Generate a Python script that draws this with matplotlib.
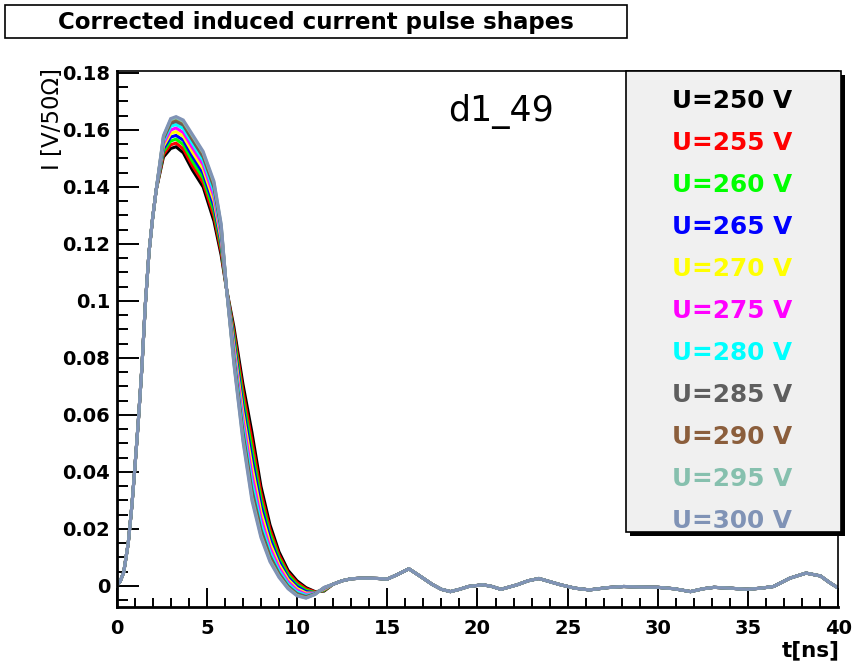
import matplotlib
matplotlib.use('Agg')
import matplotlib.pyplot as plt
from matplotlib.patches import Rectangle
from matplotlib.ticker import MultipleLocator, FuncFormatter

# common rising edge (all voltages overlap here)
t_rise = [0.0, 0.2, 0.4, 0.65, 0.85, 1.0, 1.2, 1.4, 1.6, 1.8, 2.0, 2.2]
i_rise = [0.0, 0.0015, 0.0048, 0.0150, 0.0280, 0.0400, 0.0570, 0.0760, 0.0990, 0.1170, 0.1290, 0.1390]

# peak and falling edge, one list per bias voltage
t_pulse = [2.6, 3.0, 3.3, 3.7, 4.2, 4.8, 5.4, 5.8, 6.1, 6.5, 7.0, 7.5, 8.0, 8.5, 9.0, 9.5, 10.0, 10.5, 11.0, 11.5]
i_250 = [0.1505, 0.1535, 0.1541, 0.1520, 0.1460, 0.1400, 0.1280, 0.1160, 0.1040, 0.0910, 0.0710, 0.0540, 0.0350, 0.0215, 0.0120, 0.0055, 0.0018, -0.0006, -0.0020, -0.0018]
i_255 = [0.1514, 0.1548, 0.1554, 0.1534, 0.1475, 0.1415, 0.1297, 0.1173, 0.1040, 0.0894, 0.0686, 0.0511, 0.0328, 0.0199, 0.0109, 0.0047, 0.0012, -0.0010, -0.0021, -0.0016]
i_260 = [0.1524, 0.1561, 0.1568, 0.1549, 0.1491, 0.1431, 0.1315, 0.1188, 0.1040, 0.0878, 0.0660, 0.0480, 0.0305, 0.0183, 0.0098, 0.0039, 0.0005, -0.0015, -0.0023, -0.0015]
i_265 = [0.1534, 0.1575, 0.1581, 0.1564, 0.1508, 0.1448, 0.1333, 0.1202, 0.1040, 0.0861, 0.0634, 0.0449, 0.0282, 0.0166, 0.0086, 0.0030, -0.0002, -0.0020, -0.0024, -0.0013]
i_270 = [0.1543, 0.1588, 0.1594, 0.1578, 0.1523, 0.1463, 0.1350, 0.1215, 0.1040, 0.0845, 0.0610, 0.0420, 0.0260, 0.0150, 0.0075, 0.0023, -0.0009, -0.0025, -0.0025, -0.0012]
i_275 = [0.1552, 0.1600, 0.1607, 0.1591, 0.1538, 0.1478, 0.1367, 0.1228, 0.1040, 0.0829, 0.0586, 0.0391, 0.0238, 0.0134, 0.0064, 0.0015, -0.0015, -0.0029, -0.0026, -0.0010]
i_280 = [0.1561, 0.1613, 0.1619, 0.1605, 0.1553, 0.1493, 0.1384, 0.1241, 0.1040, 0.0814, 0.0562, 0.0362, 0.0217, 0.0119, 0.0053, 0.0007, -0.0021, -0.0033, -0.0027, -0.0008]
i_285 = [0.1568, 0.1623, 0.1630, 0.1617, 0.1565, 0.1505, 0.1398, 0.1252, 0.1040, 0.0801, 0.0542, 0.0338, 0.0199, 0.0106, 0.0044, 0.0000, -0.0027, -0.0037, -0.0028, -0.0007]
i_290 = [0.1573, 0.1631, 0.1637, 0.1625, 0.1574, 0.1514, 0.1407, 0.1260, 0.1040, 0.0792, 0.0528, 0.0322, 0.0186, 0.0097, 0.0038, -0.0004, -0.0030, -0.0040, -0.0029, -0.0006]
i_295 = [0.1577, 0.1636, 0.1643, 0.1630, 0.1580, 0.1520, 0.1414, 0.1266, 0.1040, 0.0785, 0.0518, 0.0310, 0.0177, 0.0090, 0.0034, -0.0007, -0.0033, -0.0042, -0.0030, -0.0006]
i_300 = [0.1580, 0.1640, 0.1647, 0.1635, 0.1585, 0.1525, 0.1420, 0.1270, 0.1040, 0.0780, 0.0510, 0.0300, 0.0170, 0.0085, 0.0030, -0.0010, -0.0035, -0.0043, -0.0030, -0.0005]

# common ringing tail
t_tail = [12.0, 12.5, 13.0, 13.5, 14.0, 14.5, 15.0, 15.5, 16.2, 16.8, 17.5, 18.0, 18.5, 19.0, 19.5, 20.3,
          20.8, 21.3, 22.2, 22.8, 23.4, 24.0, 24.6, 25.4, 26.2, 27.2, 28.1, 29.0, 30.0, 30.9, 31.8, 32.5,
          33.1, 34.0, 34.9, 35.7, 36.4, 37.3, 38.2, 39.0, 39.5, 40.0]
i_tail = [0.0006, 0.0018, 0.0025, 0.0027, 0.0027, 0.0026, 0.0024, 0.0038, 0.0060, 0.0035, 0.0005, -0.0012,
          -0.0020, -0.0012, -0.0002, 0.0004, -0.0002, -0.0012, 0.0004, 0.0018, 0.0026, 0.0015, 0.0004, -0.0008,
          -0.0014, -0.0006, -0.0002, -0.0004, -0.0005, -0.0010, -0.0020, -0.0010, -0.0005, -0.0008, -0.0012,
          -0.0008, -0.0002, 0.0027, 0.0045, 0.0035, 0.0012, -0.0008]

voltages = [250, 255, 260, 265, 270, 275, 280, 285, 290, 295, 300]
pulses = [i_250, i_255, i_260, i_265, i_270, i_275, i_280, i_285, i_290, i_295, i_300]
colors = ['#000000', '#ff0000', '#00ff00', '#0000ff', '#ffff00', '#ff00ff', '#00ffff',
          '#5e5e5e', '#8b5e3c', '#86c0ae', '#8093b6']

W, H = 853, 665
fig = plt.figure(figsize=(W / 100, H / 100), dpi=100)
fig.patch.set_facecolor('white')

def fx(px):
    return px / W

def fy(py):
    return 1 - py / H

ax = fig.add_axes([fx(116.5), fy(607), fx(838.5) - fx(116.5), fy(71) - fy(607)])

t_all = t_rise + t_pulse + t_tail
for v, ip, c in zip(voltages, pulses, colors):
    ax.plot(t_all, i_rise + ip + i_tail, color=c, lw=2.2, solid_joinstyle='miter')

ax.set_xlim(0, 40)
ax.set_ylim(-0.0074, 0.1807)
ax.xaxis.set_major_locator(MultipleLocator(5))
ax.xaxis.set_minor_locator(MultipleLocator(1))
ax.yaxis.set_major_locator(MultipleLocator(0.02))
ax.yaxis.set_minor_locator(MultipleLocator(0.005))
ax.yaxis.set_major_formatter(FuncFormatter(lambda v, p: '%g' % round(v, 4)))
ax.xaxis.set_major_formatter(FuncFormatter(lambda v, p: '%g' % v))

ax.tick_params(axis='both', which='both', direction='in', top=False, right=False, width=1.4)
ax.tick_params(axis='x', which='major', length=13.5, pad=9, labelsize=14)
ax.tick_params(axis='x', which='minor', length=6.5)
ax.tick_params(axis='y', which='major', length=16, pad=4.5, labelsize=14)
ax.tick_params(axis='y', which='minor', length=8)
for lab in ax.get_xticklabels() + ax.get_yticklabels():
    lab.set_fontweight('bold')
for s in ['left', 'bottom']:
    ax.spines[s].set_linewidth(2.0)
for s in ['top', 'right']:
    ax.spines[s].set_linewidth(1.2)

ax.text(0.459, 0.9067, 'd1_49', transform=ax.transAxes, fontsize=25, va='baseline', ha='left')

# axis titles, ROOT style
fig.text(fx(53), fy(68), 'I [V/50\u03a9]', rotation=90, ha='center', va='top', fontsize=16.5)
fig.text(fx(840), fy(650), 't[ns]', ha='right', va='center', fontsize=15.5, fontweight='bold')

# title box
fig.add_artist(Rectangle((fx(5), fy(38)), fx(627) - fx(5), fy(5) - fy(38), transform=fig.transFigure,
                         facecolor='white', edgecolor='black', lw=1.2))
fig.text(fx(316), fy(22), 'Corrected induced current pulse shapes', ha='center', va='center',
         fontsize=16.5, fontweight='bold')

# legend box with shadow
fig.add_artist(Rectangle((fx(630), fy(536)), fx(845) - fx(630), fy(75) - fy(536), transform=fig.transFigure,
                         facecolor='black', edgecolor='black', lw=0, zorder=4))
fig.add_artist(Rectangle((fx(626), fy(532)), fx(841) - fx(626), fy(71) - fy(532), transform=fig.transFigure,
                         facecolor='#f0f0f0', edgecolor='black', lw=1.2, zorder=5))
for k, (v, c) in enumerate(zip(voltages, colors)):
    fig.text(fx(732), fy(101 + 42 * k), 'U=%d V' % v, color=c, ha='center', va='center',
             fontsize=17.8, fontweight='bold', zorder=6)

fig.savefig('out.png', dpi=100)
